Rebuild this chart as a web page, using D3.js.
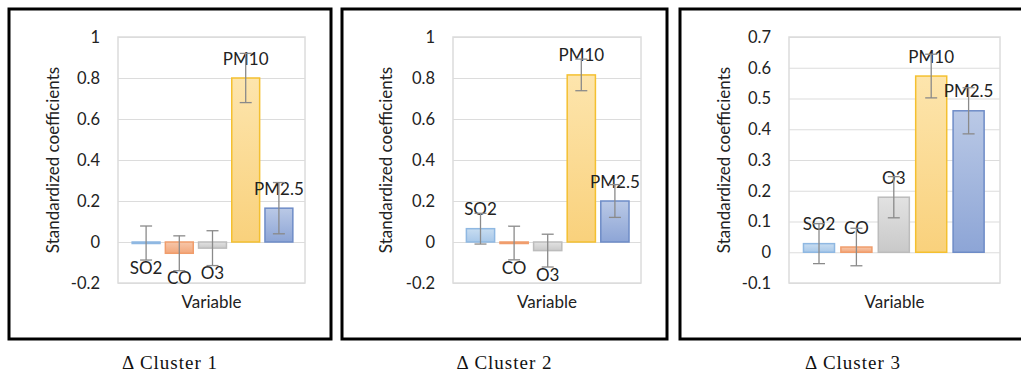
<!DOCTYPE html>
<html>
<head>
<meta charset="utf-8">
<script src="https://cdn.jsdelivr.net/npm/d3@7"></script>
<style>
  html, body { margin: 0; padding: 0; background: #fff; }
  svg { display: block; }
</style>
</head>
<body>
<div id="wrap"></div>
<script>
const categories = ["SO2", "CO", "O3", "PM10", "PM2.5"];

const cluster1Values = [-0.005, -0.055, -0.03, 0.8, 0.165];
const cluster1Errors = [0.083, 0.085, 0.085, 0.12, 0.125];
const cluster2Values = [0.065, -0.005, -0.042, 0.815, 0.2];
const cluster2Errors = [0.075, 0.082, 0.08, 0.077, 0.08];
const cluster3Values = [0.028, 0.017, 0.179, 0.573, 0.46];
const cluster3Errors = [0.065, 0.061, 0.067, 0.071, 0.075];

const ticks12 = [-0.2, 0, 0.2, 0.4, 0.6, 0.8, 1];
const ticks3 = [-0.1, 0, 0.1, 0.2, 0.3, 0.4, 0.5, 0.6, 0.7];
const captions = ["\u0394 Cluster 1", "\u0394 Cluster 2", "\u0394 Cluster 3"];

const width = 1021;
const height = 373;

// per panel layout (frame, plot area, band range)
const panels = [
  { frame: [9, 331], plot: [118, 305], band: [129.5, 295.5], values: cluster1Values, errors: cluster1Errors, ticks: ticks12, pad: 0.16 },
  { frame: [342, 667], plot: [453, 641], band: [463.7, 631.7], values: cluster2Values, errors: cluster2Errors, ticks: ticks12, pad: 0.16 },
  { frame: [680, 1040], plot: [789, 1000], band: [800.3, 987.3], values: cluster3Values, errors: cluster3Errors, ticks: ticks3, pad: 0.17 },
];
const plotTop = 37;
const plotBottom = 283;

const colors = {
  "SO2": { top: "#c8ddf1", bottom: "#a8c8e9", stroke: "#8fb8e2" },
  "CO": { top: "#f7c7aa", bottom: "#f2a77b", stroke: "#f09d6c" },
  "O3": { top: "#e2e2e2", bottom: "#c9c9c9", stroke: "#bcbcbc" },
  "PM10": { top: "#fde5ad", bottom: "#f9d17c", stroke: "#f4c030" },
  "PM2.5": { top: "#bac9e6", bottom: "#8da5d6", stroke: "#6e8cc7" },
};

const sans = "Lato, 'Open Sans', sans-serif";
const textColor = "#222";
const fontSize = "17px";

const svg = d3.select("#wrap").append("svg")
  .attr("width", width)
  .attr("height", height)
  .attr("viewBox", `0 0 ${width} ${height}`);

const defs = svg.append("defs");
categories.forEach((c, i) => {
  const g = defs.append("linearGradient")
    .attr("id", `grad${i}`)
    .attr("x1", 0).attr("y1", 0).attr("x2", 0).attr("y2", 1);
  g.append("stop").attr("offset", "0%").attr("stop-color", colors[c].top);
  g.append("stop").attr("offset", "100%").attr("stop-color", colors[c].bottom);
});

panels.forEach((p, pi) => {
  const data = categories.map((c, i) => ({ key: c, idx: i, value: p.values[i], err: p.errors[i] }));

  const xScale = d3.scaleBand(categories, p.band).paddingInner(p.pad).paddingOuter(p.pad / 2);
  const yScale = d3.scaleLinear([d3.min(p.ticks), d3.max(p.ticks)], [plotBottom, plotTop]);

  const g = svg.append("g");

  // frame
  g.append("rect")
    .attr("x", p.frame[0]).attr("y", 9)
    .attr("width", p.frame[1] - p.frame[0]).attr("height", 330)
    .attr("fill", "none").attr("stroke", "#000").attr("stroke-width", 3);

  // gridlines + tick labels
  const leftAxis = d3.axisLeft(yScale)
    .tickValues(p.ticks)
    .tickSize(-(p.plot[1] - p.plot[0]))
    .tickPadding(18)
    .tickFormat((v) => String(+v.toFixed(1)));

  const axisG = g.append("g")
    .attr("transform", `translate(${p.plot[0]}, 0)`)
    .call(leftAxis);
  axisG.select(".domain").remove();
  axisG.selectAll(".tick line").attr("stroke", "#dcdcdc").attr("stroke-width", 1.2);
  axisG.selectAll(".tick text")
    .attr("fill", textColor)
    .style("font-family", sans)
    .style("font-size", "16.5px");

  // plot area border
  g.append("rect")
    .attr("x", p.plot[0]).attr("y", plotTop)
    .attr("width", p.plot[1] - p.plot[0]).attr("height", plotBottom - plotTop)
    .attr("fill", "none").attr("stroke", "#dcdcdc").attr("stroke-width", 1.5);

  // bars
  g.append("g")
    .selectAll("rect")
    .data(data)
    .join("rect")
    .attr("x", (d) => xScale(d.key))
    .attr("width", xScale.bandwidth())
    .attr("y", (d) => Math.min(yScale(d.value), yScale(0)))
    .attr("height", (d) => Math.max(1.5, Math.abs(yScale(d.value) - yScale(0))))
    .attr("fill", (d) => `url(#grad${d.idx})`)
    .attr("stroke", (d) => colors[d.key].stroke)
    .attr("stroke-width", 1.5);

  // data labels
  g.append("g")
    .selectAll("text")
    .data(data)
    .join("text")
    .attr("x", (d) => xScale(d.key) + xScale.bandwidth() / 2)
    .attr("y", (d) => yScale(d.value) + (d.value >= 0 ? -20 : 24))
    .attr("text-anchor", "middle")
    .attr("dominant-baseline", "central")
    .attr("fill", textColor)
    .style("font-family", sans)
    .style("font-size", fontSize)
    .text((d) => d.key);

  // error bars
  const errG = g.append("g")
    .attr("stroke", "#8a8a8a")
    .attr("stroke-width", 1.3);
  data.forEach((d) => {
    const cx = xScale(d.key) + xScale.bandwidth() / 2;
    const y0 = yScale(d.value - d.err);
    const y1 = yScale(d.value + d.err);
    errG.append("line").attr("x1", cx).attr("x2", cx).attr("y1", y0).attr("y2", y1);
    errG.append("line").attr("x1", cx - 6).attr("x2", cx + 6).attr("y1", y0).attr("y2", y0);
    errG.append("line").attr("x1", cx - 6).attr("x2", cx + 6).attr("y1", y1).attr("y2", y1);
  });

  // axis titles
  g.append("text")
    .attr("transform", `translate(${p.frame[0] + 43}, ${(plotTop + plotBottom) / 2}) rotate(-90)`)
    .attr("text-anchor", "middle")
    .attr("dominant-baseline", "central")
    .attr("fill", textColor)
    .style("font-family", sans)
    .style("font-size", fontSize)
    .text("Standardized coefficients");

  g.append("text")
    .attr("x", (p.plot[0] + p.plot[1]) / 2)
    .attr("y", 301)
    .attr("text-anchor", "middle")
    .attr("dominant-baseline", "central")
    .attr("fill", textColor)
    .style("font-family", sans)
    .style("font-size", fontSize)
    .text("Variable");

  // caption
  svg.append("text")
    .attr("x", pi < 2 ? (p.frame[0] + p.frame[1]) / 2 : 853)
    .attr("y", 362)
    .attr("text-anchor", "middle")
    .attr("dominant-baseline", "central")
    .attr("fill", "#111")
    .style("font-family", "'Liberation Serif', 'DejaVu Serif', serif")
    .style("font-size", "19px")
    .style("letter-spacing", "1px")
    .text(captions[pi]);
});
</script>
</body>
</html>
